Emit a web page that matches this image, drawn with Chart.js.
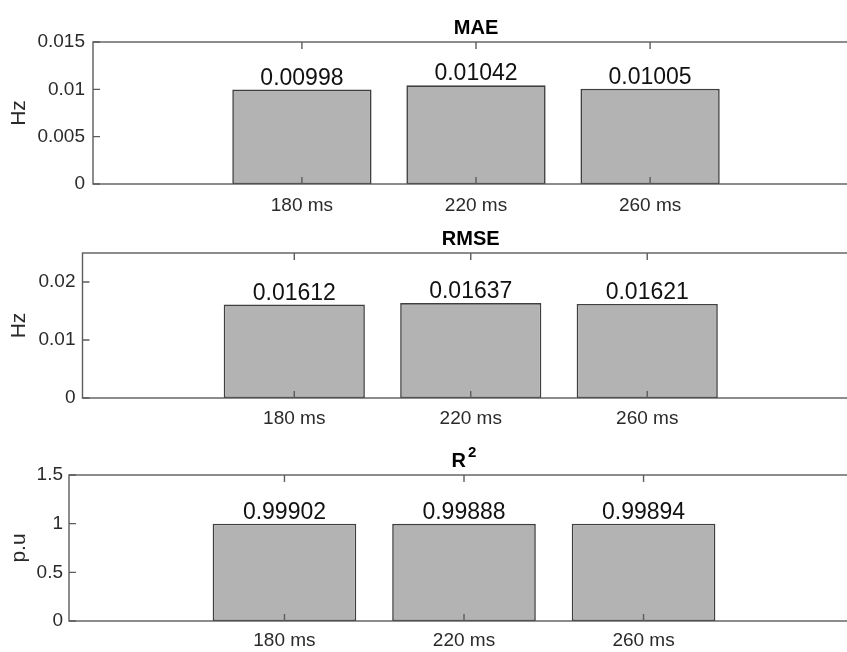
<!DOCTYPE html>
<html>
<head>
<meta charset="utf-8">
<script src="https://cdn.jsdelivr.net/npm/chart.js@4/dist/chart.umd.min.js"></script>
<style>
  html, body { margin: 0; padding: 0; background: #fff; width: 847px; height: 652px; overflow: hidden; position: relative; }
  canvas { position: absolute; left: 0; }
</style>
</head>
<body>
<canvas id="maeChart" width="880" height="228" style="top:0px"></canvas>
<canvas id="rmseChart" width="880" height="222" style="top:218px"></canvas>
<canvas id="r2Chart" width="880" height="212" style="top:440px"></canvas>
<script>
// Prediction delays compared in every panel
const delays = ['180 ms', '220 ms', '260 ms'];

// Error metrics per delay
const maeValues = [0.00998, 0.01042, 0.01005];
const rmseValues = [0.01612, 0.01637, 0.01621];
const r2Values = [0.99902, 0.99888, 0.99894];

// Y axis limits and tick labels
const maeMax = 0.015;
const maeTicks = [0, 0.005, 0.01, 0.015];
const maeTickLabels = ['0', '0.005', '0.01', '0.015'];

const rmseMax = 0.025;
const rmseTicks = [0, 0.01, 0.02];
const rmseTickLabels = ['0', '0.01', '0.02'];

const r2Max = 1.5;
const r2Ticks = [0, 0.5, 1, 1.5];
const r2TickLabels = ['0', '0.5', '1', '1.5'];

// X limits in bar-index units (bars sit at 0, 1, 2)
const xMin = -1.2;
const xMax = 3.2;

const FONT = '"Liberation Sans", Arial, Helvetica, sans-serif';
const AXIS_COLOR = '#5c5c5c';
const TEXT_COLOR = '#2a2a2a';

const panels = [
  { canvas: 'maeChart', values: maeValues, yMax: maeMax, ticks: maeTicks, tickLabels: maeTickLabels,
    unit: 'Hz', title: 'MAE', sup: '', height: 228, areaTop: 42, areaBottom: 184, areaLeft: 93, yPad: 8, xPad: 10 },
  { canvas: 'rmseChart', values: rmseValues, yMax: rmseMax, ticks: rmseTicks, tickLabels: rmseTickLabels,
    unit: 'Hz', title: 'RMSE', sup: '', height: 222, areaTop: 35, areaBottom: 180, areaLeft: 82.5, yPad: 7, xPad: 9 },
  { canvas: 'r2Chart', values: r2Values, yMax: r2Max, ticks: r2Ticks, tickLabels: r2TickLabels,
    unit: 'p.u', title: 'R', sup: '2', height: 212, areaTop: 35, areaBottom: 181, areaLeft: 69, yPad: 6, xPad: 8 }
];

// Box frame, inward tick marks, value labels and the bold axes title
function makeFramePlugin(panel) {
  return {
    id: 'frame',
    afterDatasetsDraw(chart) {
      const { ctx, chartArea: { left, right, top, bottom }, scales: { x, y } } = chart;
      ctx.save();
      ctx.strokeStyle = AXIS_COLOR;
      ctx.lineWidth = 1.4;
      ctx.strokeRect(left, top, right - left, bottom - top);
      ctx.beginPath();
      y.ticks.forEach(t => {
        const py = y.getPixelForValue(t.value);
        ctx.moveTo(left, py); ctx.lineTo(left + 7, py);
      });
      x.ticks.forEach(t => {
        const px = x.getPixelForValue(t.value);
        ctx.moveTo(px, bottom); ctx.lineTo(px, bottom - 7);
        ctx.moveTo(px, top); ctx.lineTo(px, top + 7);
      });
      ctx.stroke();

      // value above each bar
      const meta = chart.getDatasetMeta(0);
      ctx.font = '23px ' + FONT;
      ctx.fillStyle = '#111';
      ctx.textAlign = 'center';
      ctx.textBaseline = 'alphabetic';
      meta.data.forEach((bar, i) => {
        ctx.fillText(panel.values[i].toFixed(5), bar.x, bar.y - 5);
      });

      // title, with an optional superscript
      const cx = (left + right) / 2;
      const baseY = top - 8;
      ctx.fillStyle = '#000';
      ctx.textAlign = 'left';
      ctx.font = 'bold 20px ' + FONT;
      const wMain = ctx.measureText(panel.title).width;
      let wSup = 0;
      if (panel.sup) {
        ctx.font = 'bold 15px ' + FONT;
        wSup = ctx.measureText(panel.sup).width + 2;
      }
      const startX = cx - (wMain + wSup) / 2;
      ctx.font = 'bold 20px ' + FONT;
      ctx.fillText(panel.title, startX, baseY);
      if (panel.sup) {
        ctx.font = 'bold 15px ' + FONT;
        ctx.fillText(panel.sup, startX + wMain + 2, baseY - 10);
      }
      ctx.restore();
    }
  };
}

panels.forEach(panel => {
  new Chart(document.getElementById(panel.canvas), {
    type: 'bar',
    data: {
      datasets: [{
        data: panel.values.map((v, i) => ({ x: i, y: v })),
        backgroundColor: 'rgb(179,179,179)',
        borderColor: '#3f3f3f',
        borderWidth: 1.6,
        borderSkipped: false,
        barPercentage: 0.8,
        categoryPercentage: 1.0
      }]
    },
    options: {
      responsive: false,
      animation: false,
      events: [],
      devicePixelRatio: 1,
      layout: { padding: { top: panel.areaTop, left: 0, right: 21, bottom: 0 } },
      plugins: {
        legend: { display: false },
        tooltip: { enabled: false },
        title: { display: false }
      },
      scales: {
        x: {
          type: 'linear',
          min: xMin,
          max: xMax,
          offset: false,
          grid: { display: false, drawTicks: false, offset: false },
          border: { display: false },
          afterBuildTicks: s => { s.ticks = delays.map((_, i) => ({ value: i })); },
          afterFit: s => { s.height = panel.height - panel.areaBottom; },
          ticks: {
            autoSkip: false,
            maxRotation: 0,
            padding: panel.xPad,
            color: TEXT_COLOR,
            font: { family: FONT, size: 19 },
            callback: v => delays[v] ?? ''
          }
        },
        y: {
          type: 'linear',
          min: 0,
          max: panel.yMax,
          grid: { display: false, drawTicks: false },
          border: { display: false },
          afterBuildTicks: s => { s.ticks = panel.ticks.map(v => ({ value: v })); },
          afterFit: s => { s.width = panel.areaLeft; },
          ticks: {
            padding: panel.yPad,
            color: TEXT_COLOR,
            font: { family: FONT, size: 19 },
            callback: v => {
              const k = panel.ticks.findIndex(t => Math.abs(t - v) < 1e-12);
              return k >= 0 ? panel.tickLabels[k] : '';
            }
          },
          title: {
            display: true,
            text: panel.unit,
            color: TEXT_COLOR,
            font: { family: FONT, size: 21 },
            padding: { top: 7, bottom: 0 }
          }
        }
      }
    },
    plugins: [makeFramePlugin(panel)]
  });
});
</script>
</body>
</html>
